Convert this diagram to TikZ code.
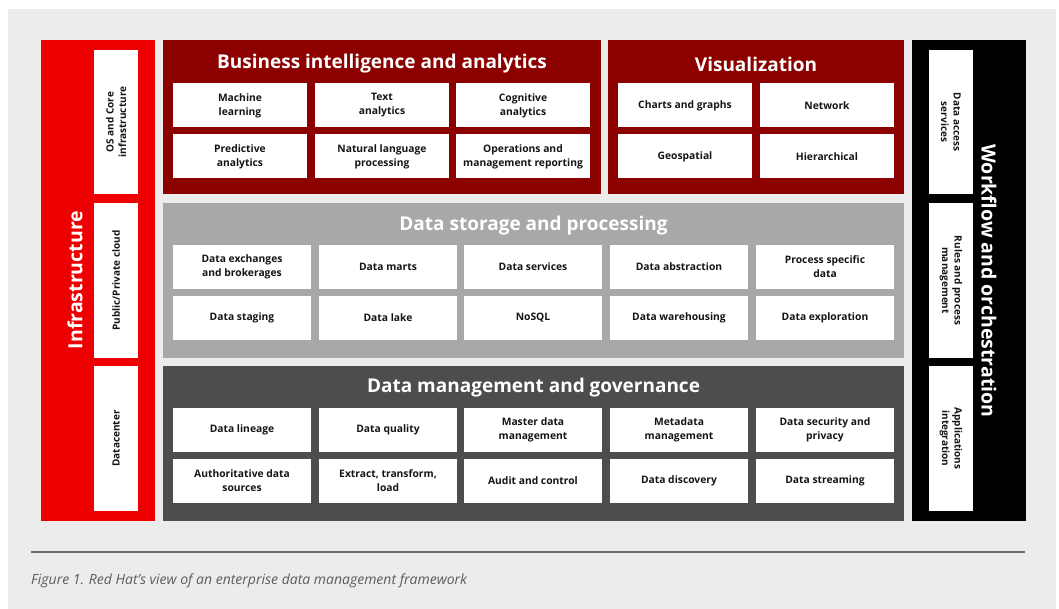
\documentclass[tikz,border=0pt]{standalone}
\usepackage{fontspec}
\setmainfont{Open Sans}
\newfontfamily\titlefont{Open Sans}
\definecolor{bgc}{HTML}{ECECEC}
\definecolor{infred}{HTML}{EE0000}
\definecolor{darkred}{HTML}{8C0000}
\definecolor{midgray}{HTML}{A8A8A8}
\definecolor{darkgray}{HTML}{4D4D4D}
\definecolor{linec}{HTML}{6E6E6E}
\definecolor{capc}{HTML}{5C5C5C}
\definecolor{txt}{HTML}{151515}
\tikzset{
  panel/.style={inner sep=0, outer sep=0, draw=none},
  cell/.style={fill=white, inner sep=0, outer sep=0, align=center, text=txt,
    font=\fontsize{10.3}{14}\selectfont\bfseries},
  bicell/.style={cell, minimum width=134pt, minimum height=44pt},
  dcell/.style={cell, minimum width=138pt, minimum height=44pt},
  sidecell/.style={cell, minimum width=44pt},
  sidetext/.style={align=center, text=txt, inner sep=0, font=\fontsize{10}{12.5}\selectfont\bfseries},
  ptitle/.style={text=white, inner sep=0, font=\titlefont\fontsize{19}{22}\selectfont\bfseries},
  coltitle/.style={text=white, inner sep=0, font=\titlefont\fontsize{19.5}{22}\selectfont\bfseries},
}
\begin{document}
\begin{tikzpicture}[x=1pt,y=-1pt]
\useasboundingbox (0,0) rectangle (1059,609);
\fill[white] (0,0) rectangle (1059,609);
\fill[bgc] (8,9) rectangle (1056,609);
% side columns
\node[panel, fill=infred, minimum width=114pt, minimum height=481pt] (infra) at (98,280.5) {};
\node[panel, fill=black, minimum width=114pt, minimum height=481pt] (wf) at (969,280.5) {};
\node[coltitle, rotate=90] (infrat) at (75,280) {Infrastructure};
\node[coltitle, rotate=-90] (wft) at (989,281) {Workflow and orchestration};
\node[sidecell, minimum height=144pt] (os) at (116,122) {};
\node[sidetext, rotate=90] (ost) at (os.center) {OS and Core\\infrastructure};
\node[sidecell, minimum height=155pt] (cloud) at (116,280.5) {};
\node[sidetext, rotate=90] (cloudt) at (cloud.center) {Public/Private cloud};
\node[sidecell, minimum height=145pt] (dc) at (116,438.5) {};
\node[sidetext, rotate=90] (dct) at (dc.center) {Datacenter};
\node[sidecell, minimum height=144pt] (das) at (951,122) {};
\node[sidetext, rotate=-90] (dast) at (das.center) {Data access\\services};
\node[sidecell, minimum height=155pt] (rpm) at (951,280.5) {};
\node[sidetext, rotate=-90] (rpmt) at (rpm.center) {Rules and process\\management};
\node[sidecell, minimum height=145pt] (ai) at (951,438.5) {};
\node[sidetext, rotate=-90] (ait) at (ai.center) {Applications\\integration};
% BI panel
\node[panel, fill=darkred, minimum width=438pt, minimum height=154pt] (bi) at (382,117) {};
\node[ptitle] (bit) at (382,64) {Business intelligence and analytics};
\node[bicell] (ml) at (240,105.5) {Machine\\learning};
\node[bicell] (ta) at (382,105.5) {Text\\analytics};
\node[bicell] (ca) at (523,105.5) {Cognitive\\analytics};
\node[bicell] (pa) at (240,156.5) {Predictive\\analytics};
\node[bicell] (nlp) at (382,156.5) {Natural language\\processing};
\node[bicell] (omr) at (523,156.5) {Operations and\\management reporting};
% Visualization
\node[panel, fill=darkred, minimum width=296pt, minimum height=154pt] (vis) at (756,117) {};
\node[ptitle] (vist) at (756,64) {Visualization};
\node[bicell] (cg) at (685,105.5) {Charts and graphs};
\node[bicell] (net) at (827,105.5) {Network};
\node[bicell] (geo) at (685,156.5) {Geospatial};
\node[bicell] (hier) at (827,156.5) {Hierarchical};
% Storage
\node[panel, fill=midgray, minimum width=741pt, minimum height=155pt] (st) at (533.5,280.5) {};
\node[ptitle] (stt) at (533.5,226) {Data storage and processing};
\node[dcell] (deb) at (242,267) {Data exchanges\\and brokerages};
\node[dcell] (dm) at (388,267) {Data marts};
\node[dcell] (ds) at (533,267) {Data services};
\node[dcell] (dab) at (679,267) {Data abstraction};
\node[dcell] (psd) at (825,267) {Process specific\\data};
\node[dcell] (dst) at (242,318) {Data staging};
\node[dcell] (dl) at (388,318) {Data lake};
\node[dcell] (nosql) at (533,318) {NoSQL};
\node[dcell] (dw) at (679,318) {Data warehousing};
\node[dcell] (dex) at (825,318) {Data exploration};
% Management
\node[panel, fill=darkgray, minimum width=741pt, minimum height=155pt] (mg) at (533.5,443.5) {};
\node[ptitle] (mgt) at (533.5,388) {Data management and governance};
\node[dcell] (dlin) at (242,430) {Data lineage};
\node[dcell] (dq) at (388,430) {Data quality};
\node[dcell] (mdm) at (533,430) {Master data\\management};
\node[dcell] (meta) at (679,430) {Metadata\\management};
\node[dcell] (dsp) at (825,430) {Data security and\\privacy};
\node[dcell] (ads) at (242,481) {Authoritative data\\sources};
\node[dcell] (etl) at (388,481) {Extract, transform,\\load};
\node[dcell] (aud) at (533,481) {Audit and control};
\node[dcell] (ddis) at (679,481) {Data discovery};
\node[dcell] (dstr) at (825,481) {Data streaming};
% rule and caption
\coordinate (la) at (31,552);
\coordinate (lb) at (1025,552);
\draw[linec, line width=1.5pt] (la) -- (lb);
\node[anchor=base west, inner sep=0, text=capc, font=\fontsize{14}{17}\selectfont\itshape] (cap) at (31,584) {Figure 1. Red Hat’s view of an enterprise data management framework};
\end{tikzpicture}
\end{document}
